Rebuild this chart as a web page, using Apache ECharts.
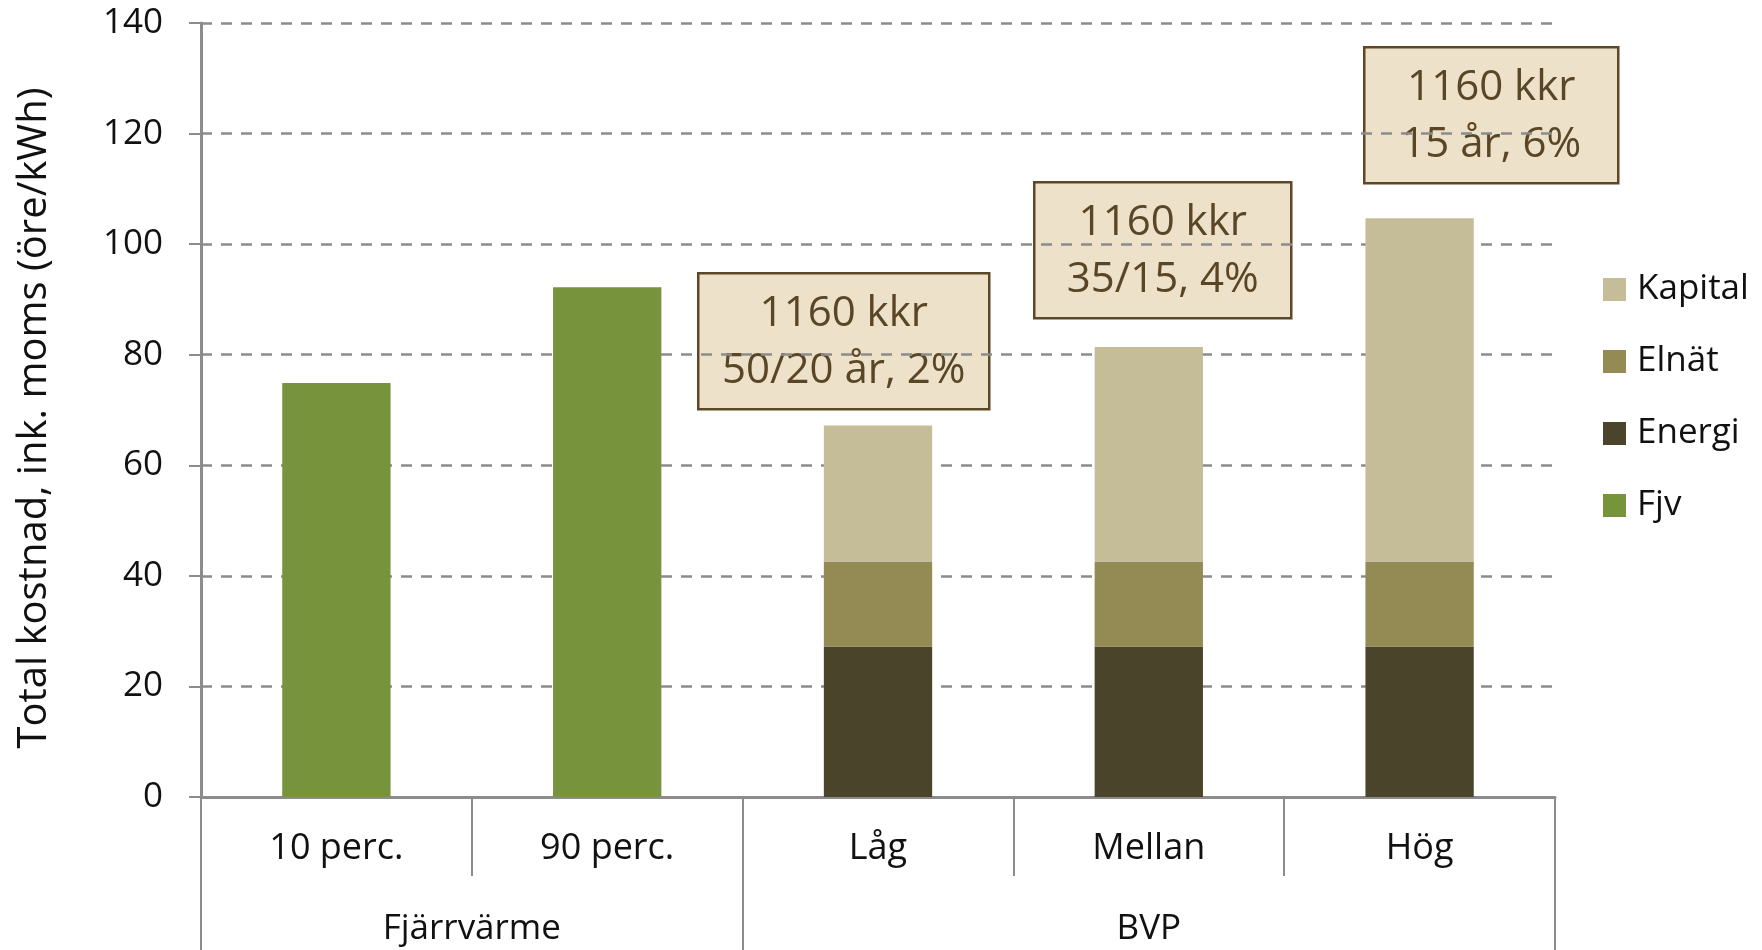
<!DOCTYPE html>
<html>
<head>
<meta charset="utf-8">
<script src="https://cdn.jsdelivr.net/npm/echarts@6/dist/echarts.min.js"></script>
<style>
  html, body { margin: 0; padding: 0; background: #fff; }
  #chart { width: 1762px; height: 950px; }
</style>
</head>
<body>
<div id="chart"></div>
<script>
// categories + values (öre/kWh)
const categories = ['10 perc.', '90 perc.', 'Låg', 'Mellan', 'Hög']
const groupNames = ['Fjärrvärme', 'BVP']
const groupSizes = [2, 3]
const fjv = [74.9, 92.2, '-', '-', '-']
const energi = ['-', '-', 27.2, 27.2, 27.2]
const elnat = ['-', '-', 15.4, 15.4, 15.4]
const kapital = ['-', '-', 24.6, 38.8, 62.1]
const yTicks = [0, 20, 40, 60, 80, 100, 120, 140]
const noteLine1 = ['1160 kkr', '1160 kkr', '1160 kkr']
const noteLine2 = ['50/20 år, 2%', '35/15, 4%', '15 år, 6%']

const FONT = '"Open Sans", "DejaVu Sans", sans-serif'
const gray = '#8c8c8c'

// boundaries / centers of the outer category groups
const groupBounds = [0]
groupSizes.forEach(s => groupBounds.push(groupBounds[groupBounds.length - 1] + s))
const groupCenters = groupSizes.map((s, i) => groupBounds[i] + s / 2)

// note boxes (pixel layout)
const noteBoxes = [
  { x: 697, y: 272, w: 291, h: 136 },
  { x: 1033, y: 181, w: 257, h: 136 },
  { x: 1363, y: 46, w: 254, h: 136 }
]

const chart = echarts.init(document.getElementById('chart'))

const barSeries = (name, data, color) => ({
  name: name,
  type: 'bar',
  stack: 'total',
  barWidth: '40%',
  data: data,
  itemStyle: { color: color },
  animation: false
})

chart.setOption({
  animation: false,
  textStyle: { fontFamily: FONT },
  grid: { left: 201, right: 207, top: 23, bottom: 153 },
  legend: {
    orient: 'vertical',
    left: 1598,
    top: 267,
    icon: 'rect',
    itemWidth: 23,
    itemHeight: 23,
    itemGap: 37,
    data: ['Kapital', 'Elnät', 'Energi', 'Fjv'],
    textStyle: { fontSize: 35, color: '#111', fontFamily: FONT, padding: [0, 0, 0, 6] }
  },
  xAxis: [{
    type: 'category',
    data: categories,
    position: 'bottom',
    axisLine: { show: true, lineStyle: { color: gray, width: 3 } },
    axisTick: { show: true, length: 79, interval: 0, lineStyle: { color: gray, width: 2 } },
    axisLabel: { fontSize: 36, color: '#111', margin: 34, interval: 0, fontFamily: FONT, lineHeight: 36 },
    splitLine: { show: false }
  }, {
    type: 'value',
    min: 0,
    max: groupBounds[groupBounds.length - 1],
    position: 'bottom',
    axisLine: { show: false },
    axisTick: { show: true, length: 153, customValues: groupBounds, lineStyle: { color: gray, width: 2 } },
    axisLabel: {
      fontSize: 35, color: '#111', margin: 115, fontFamily: FONT, lineHeight: 35,
      customValues: groupCenters,
      formatter: v => groupNames[groupCenters.indexOf(v)] || ''
    },
    splitLine: { show: false }
  }],
  yAxis: {
    type: 'value',
    min: yTicks[0],
    max: yTicks[yTicks.length - 1],
    interval: yTicks[1] - yTicks[0],
    name: 'Total kostnad, ink. moms (öre/kWh)',
    nameLocation: 'middle',
    nameGap: 146,
    nameTextStyle: { fontSize: 40, color: '#111', fontFamily: FONT, padding: [0, 16, 0, 0] },
    axisLine: { show: true, lineStyle: { color: gray, width: 3 } },
    axisTick: { show: true, length: 12, lineStyle: { color: gray, width: 2 } },
    axisLabel: { fontSize: 35, color: '#111', margin: 38, fontFamily: FONT },
    splitLine: { show: true, lineStyle: { color: gray, width: 2.5, type: [11, 9] } }
  },
  series: [
    barSeries('Fjv', fjv, '#77933c'),
    barSeries('Energi', energi, '#4a452a'),
    barSeries('Elnät', elnat, '#948a54'),
    barSeries('Kapital', kapital, '#c4bd97')
  ],
  graphic: noteBoxes.map((b, i) => ({
    type: 'group',
    left: b.x,
    top: b.y,
    children: [{
      type: 'rect',
      shape: { x: 0, y: 0, width: b.w, height: b.h },
      style: { fill: '#eee1c9', stroke: '#5c4827', lineWidth: 2.5 }
    }, {
      type: 'text',
      x: b.w / 2,
      y: b.h / 2 + 1,
      style: {
        text: noteLine1[i] + '\n' + noteLine2[i],
        fill: '#584627',
        font: '42px ' + FONT,
        lineHeight: 57,
        align: 'center',
        verticalAlign: 'middle'
      }
    }]
  }))
})
</script>
</body>
</html>
